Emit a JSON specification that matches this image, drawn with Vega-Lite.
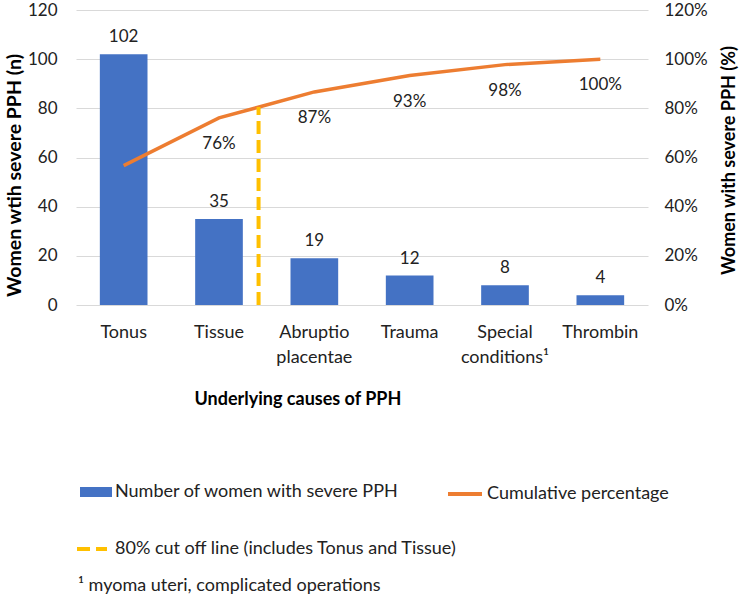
{
  "$schema": "https://vega.github.io/schema/vega-lite/v6.json",
  "autosize": {"type": "none"},
  "width": 572,
  "height": 295,
  "padding": {"left": 76, "top": 10, "right": 91, "bottom": 292},
  "background": "white",
  "config": {
    "font": "Lato",
    "view": {"stroke": null},
    "axis": {"labelFont": "Lato", "titleFont": "Lato", "labelFontSize": 17, "titleFontSize": 18, "labelColor": "#222222", "titleColor": "#000000", "titleFontWeight": "bold", "ticks": false, "domain": false, "gridColor": "#D9D9D9", "gridWidth": 1},
    "legend": {"labelFont": "Lato", "labelFontSize": 18, "labelColor": "#222222", "padding": 0, "labelLimit": 0}
  },
  "title": {"text": "¹ myoma uteri, complicated operations", "orient": "bottom", "anchor": "start", "frame": "group", "offset": 19, "dx": 2, "font": "Lato", "fontSize": 18, "fontWeight": "normal", "color": "#222222"},
  "data": {"values": [
    {"cat": "Tonus", "n": 102, "cum": 0.5667},
    {"cat": "Tissue", "n": 35, "cum": 0.7611},
    {"cat": "Abruptio placentae", "n": 19, "cum": 0.8667},
    {"cat": "Trauma", "n": 12, "cum": 0.9333},
    {"cat": "Special conditions¹", "n": 8, "cum": 0.9778},
    {"cat": "Thrombin", "n": 4, "cum": 1.0}
  ]},
  "layer": [
    {
      "layer": [
        {
          "mark": {"type": "bar"},
          "encoding": {
            "x": {"field": "cat", "type": "nominal", "sort": null,
              "scale": {"domain": ["Tonus", "Tissue", "Abruptio placentae", "Trauma", "Special conditions¹", "Thrombin"], "paddingInner": 0.5, "paddingOuter": 0.25},
              "axis": {"title": "Underlying causes of PPH", "labelAngle": 0, "labelFontSize": 18, "labelPadding": 27, "labelLineHeight": 25, "labelBaseline": "middle",
                "labelExpr": "datum.label == 'Abruptio placentae' ? ['Abruptio', 'placentae'] : datum.label == 'Special conditions¹' ? ['Special', 'conditions¹'] : datum.label",
                "titleAnchor": "start", "titleAlign": "left", "titleX": 118, "titleY": 85, "titleBaseline": "top", "grid": false}},
            "y": {"field": "n", "type": "quantitative", "scale": {"domain": [0, 120]},
              "axis": {"title": "Women wtih severe PPH (n)", "titleFontSize": 19.5, "values": [0, 20, 40, 60, 80, 100, 120], "labelPadding": 19, "titleX": -62, "titleY": 165, "titleAngle": -90, "titleBaseline": "middle", "titleAlign": "center"}},
            "fill": {"datum": "Number of women with severe PPH", "scale": {"range": ["#4472C4"]},
              "legend": {"title": null, "orient": "none", "legendX": 4, "legendY": 466, "symbolType": "M-1,-0.3125H1V0.3125H-1Z", "symbolSize": 1024, "symbolStrokeWidth": 0, "labelOffset": 3}}
          }
        },
        {
          "mark": {"type": "text", "baseline": "bottom", "dy": -8, "fontSize": 17, "font": "Lato", "color": "#222222"},
          "encoding": {
            "x": {"field": "cat", "type": "nominal", "sort": null},
            "y": {"field": "n", "type": "quantitative"},
            "text": {"field": "n", "type": "quantitative"}
          }
        }
      ]
    },
    {
      "layer": [
        {
          "mark": {"type": "line", "strokeWidth": 3.5},
          "encoding": {
            "x": {"field": "cat", "type": "nominal", "sort": null},
            "y": {"field": "cum", "type": "quantitative", "scale": {"domain": [0, 1.2]},
              "axis": {"title": "Women with severe PPH (%)", "orient": "right", "format": ".0%", "values": [0, 0.2, 0.4, 0.6, 0.8, 1.0, 1.2], "labelPadding": 16, "grid": false, "titleAngle": -90, "titleX": 81, "titleY": 150, "titleBaseline": "middle", "titleAlign": "center"}},
            "stroke": {"datum": "Cumulative percentage", "scale": {"range": ["#ED7D31"]},
              "legend": {"title": null, "orient": "none", "legendX": 370, "legendY": 465, "symbolType": "stroke", "symbolSize": 1156, "symbolStrokeWidth": 4, "labelOffset": 3}}
          }
        },
        {
          "transform": [{"filter": "datum.cat != 'Tonus'"}],
          "mark": {"type": "text", "baseline": "middle", "dy": 26, "fontSize": 17, "font": "Lato", "color": "#222222"},
          "encoding": {
            "x": {"field": "cat", "type": "nominal", "sort": null},
            "y": {"field": "cum", "type": "quantitative"},
            "text": {"field": "cum", "type": "quantitative", "format": ".0%"}
          }
        },
        {
          "data": {"values": [{"cat": "Tissue", "lo": 0, "hi": 0.805}]},
          "mark": {"type": "rule", "stroke": "#FFC000", "strokeWidth": 4},
          "encoding": {
            "x": {"field": "cat", "type": "nominal", "sort": null, "bandPosition": 1.33},
            "y": {"field": "lo", "type": "quantitative"},
            "y2": {"field": "hi"},
            "strokeDash": {"datum": "80% cut off line (includes Tonus and Tissue)", "scale": {"range": [[13, 6]]},
              "legend": {"title": null, "orient": "none", "legendX": -1, "legendY": 522, "symbolType": "stroke", "symbolSize": 900, "symbolStrokeWidth": 4, "symbolStrokeColor": "#FFC000", "symbolDash": [13, 7], "labelOffset": 6}}
          }
        }
      ]
    }
  ],
  "resolve": {"scale": {"y": "independent"}}
}
